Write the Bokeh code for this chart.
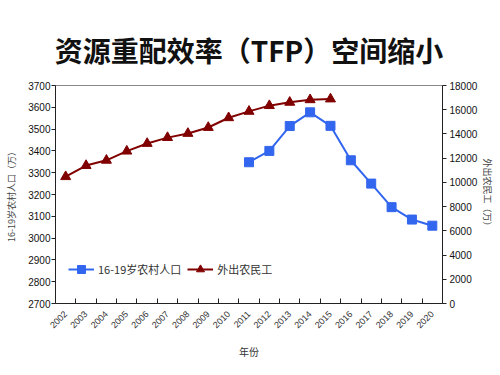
import math
from bokeh.plotting import figure
from bokeh.models import Range1d, LinearAxis, FixedTicker, SingleIntervalTicker, Legend, LegendItem
from bokeh.embed import file_html
from bokeh.resources import INLINE

years = list(range(2002, 2021))
year_labels = [str(y) for y in years]
youth_years = [2011, 2012, 2013, 2014, 2015, 2016, 2017, 2018, 2019, 2020]
youth_values = [3348, 3400, 3514, 3577, 3515, 3357, 3250, 3142, 3085, 3057]
migrant_years = list(range(2002, 2016))
migrant_values = [10470, 11390, 11823, 12578, 13212, 13697, 14041, 14533,
                  15335, 15863, 16336, 16610, 16821, 16884]

BLUE = "#3366ee"
RED = "#800000"
NUM_FONT = "Liberation Sans"
CJK_FONT = "Noto Sans CJK SC"

p = figure(frame_width=387, frame_height=218, output_backend="svg", toolbar_location=None,
           x_range=Range1d(2001.5, 2020.5), y_range=Range1d(2700, 3700),
           min_border_left=55, min_border_right=58, min_border_top=85, min_border_bottom=72,
           x_axis_location=None, y_axis_location=None)
p.extra_y_ranges = {"right": Range1d(0, 18000)}
p.xgrid.visible = False
p.ygrid.visible = False
p.outline_line_color = "#888888"
p.background_fill_color = "white"
p.border_fill_color = "white"

p.title.text = "资源重配效率（TFP）空间缩小"
p.title.text_font = CJK_FONT
p.title.text_font_size = "28px"
p.title.text_font_style = "bold"
p.title.align = "center"
p.title.text_color = "#111111"
p.title.standoff = 32

# left axis
la = LinearAxis(ticker=SingleIntervalTicker(interval=100, num_minor_ticks=0),
                axis_label="16-19岁农村人口（万）")
# right axis
ra = LinearAxis(y_range_name="right", ticker=SingleIntervalTicker(interval=2000, num_minor_ticks=0),
                axis_label="外出农民工（万）")
for ax in (la, ra):
    ax.axis_line_color = "#222222"
    ax.major_tick_line_color = "#222222"
    ax.major_tick_out = 4
    ax.major_tick_in = 0
    ax.minor_tick_line_color = None
    ax.major_label_text_font = NUM_FONT
    ax.major_label_text_font_size = "10px"
    ax.major_label_text_color = "#111111"
    ax.axis_label_text_font = CJK_FONT
    ax.axis_label_text_font_size = "9px"
    ax.axis_label_text_font_style = "normal"
    ax.axis_label_text_color = "#444444"
la.major_label_standoff = 1
la.axis_label_standoff = 7
ra.major_label_standoff = 3
ra.axis_label_standoff = 1
p.add_layout(la, "left")
p.add_layout(ra, "right")

# bottom: year labels at centres, tick marks at category boundaries
bl = LinearAxis(ticker=FixedTicker(ticks=years, minor_ticks=[y + 0.5 for y in years[:-1]]),
                axis_label="年份",
                major_label_overrides={y: s for y, s in zip(years, year_labels)})
bl.axis_line_color = "#222222"
bl.major_tick_line_color = None
bl.minor_tick_line_color = "#222222"
bl.minor_tick_in = 5
bl.minor_tick_out = 0
bl.major_label_orientation = math.pi / 4
bl.major_label_text_font = NUM_FONT
bl.major_label_text_font_size = "9px"
bl.major_label_text_color = "#333333"
bl.major_label_standoff = 3
bl.axis_label_text_font = CJK_FONT
bl.axis_label_text_font_size = "10px"
bl.axis_label_text_font_style = "normal"
bl.axis_label_text_color = "#333333"
bl.axis_label_standoff = 10
p.add_layout(bl, "below")

l1 = p.line(youth_years, youth_values, line_color=BLUE, line_width=2)
s1 = p.scatter(youth_years, youth_values, marker="square", size=9, fill_color=BLUE, line_color=BLUE)
l2 = p.line(migrant_years, migrant_values, line_color=RED, line_width=2, y_range_name="right")
s2 = p.scatter(migrant_years, migrant_values, marker="triangle", size=10, fill_color=RED,
               line_color=RED, y_range_name="right")

legend = Legend(items=[LegendItem(label="16-19岁农村人口", renderers=[l1, s1]),
                       LegendItem(label="外出农民工", renderers=[l2, s2])],
                orientation="horizontal", location=(13, 24))
legend.border_line_color = None
legend.background_fill_alpha = 0
legend.label_text_font = CJK_FONT
legend.label_text_font_size = "11px"
legend.label_text_color = "#333333"
legend.glyph_width = 26
legend.label_standoff = 4
legend.spacing = 6
legend.padding = 4
p.add_layout(legend, "center")

open("out.html", "w").write(file_html(p, INLINE))
